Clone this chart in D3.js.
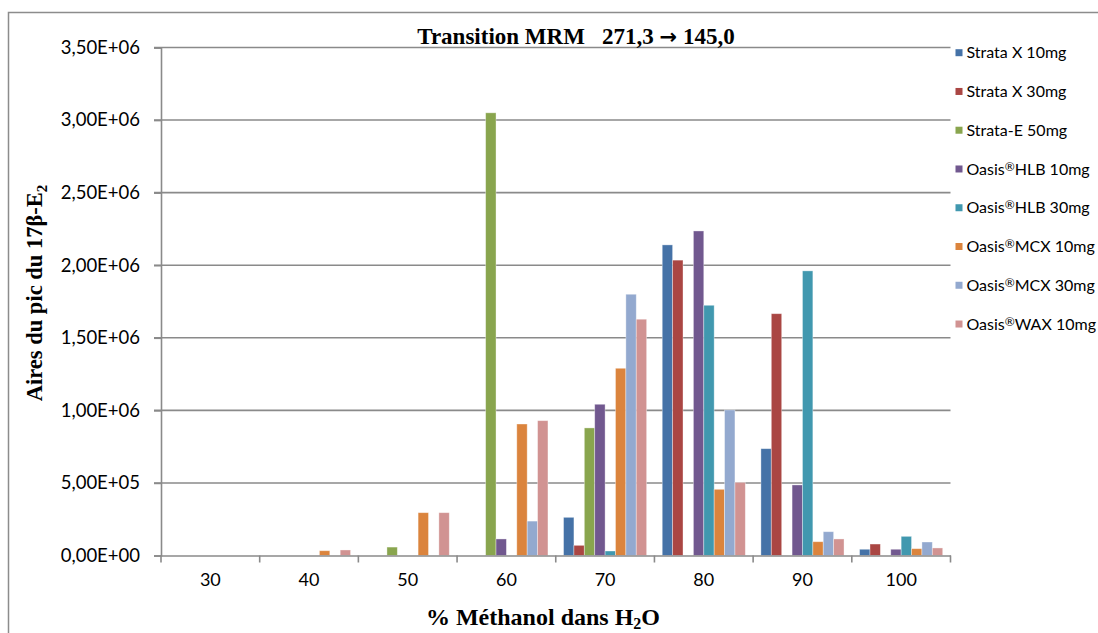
<!DOCTYPE html>
<html><head><meta charset="utf-8">
<script src="https://cdn.jsdelivr.net/npm/d3@7"></script>
<style>body{margin:0;background:#fff}svg{display:block}</style>
</head><body>
<svg id="chart" width="1098" height="633"></svg>
<script>
const categories = ["30","40","50","60","70","80","90","100"];
const seriesNames = ["Strata X 10mg","Strata X 30mg","Strata-E 50mg","Oasis®HLB 10mg","Oasis®HLB 30mg","Oasis®MCX 10mg","Oasis®MCX 30mg","Oasis®WAX 10mg"];
const seriesColors = ["#4572A7","#AA4643","#89A54E","#71588F","#4198AF","#DB843D","#93A9CF","#D19392"];
const strataX10  = [0, 0, 0, 0, 263000, 2140000, 736000, 43000];
const strataX30  = [0, 0, 0, 0, 70000, 2035000, 1666000, 79000];
const strataE50  = [0, 0, 58000, 3050000, 879000, 0, 0, 0];
const hlb10      = [0, 0, 0, 114000, 1042000, 2236000, 486000, 43000];
const hlb30      = [0, 0, 0, 0, 31000, 1724000, 1961000, 132000];
const mcx10      = [0, 33000, 295000, 906000, 1290000, 456000, 95000, 47000];
const mcx30      = [0, 0, 0, 237000, 1800000, 1003000, 164000, 93000];
const wax10      = [0, 38000, 295000, 929000, 1628000, 504000, 114000, 52000];
const seriesValues = [strataX10, strataX30, strataE50, hlb10, hlb30, mcx10, mcx30, wax10];
const yTicks = [0, 500000, 1000000, 1500000, 2000000, 2500000, 3000000, 3500000];

const svg = d3.select("#chart");
const L = 161, R = 950.5, T = 47.5, B = 555.5;
const gridColor = "#8a8a8a";
const sans = "Lato, 'Open Sans', sans-serif";
const serif = "'Liberation Serif', 'Times New Roman', serif";

// outer frame
svg.append("rect").attr("x", 8.5).attr("y", 12.5).attr("width", 1200).attr("height", 700)
  .attr("fill", "none").attr("stroke", "#8c8c8c").attr("stroke-width", 1.5);

const x = d3.scaleBand().domain(categories).range([L, R]).paddingInner(0).paddingOuter(0);
const xs = d3.scaleBand().domain(d3.range(seriesNames.length)).range([0, x.bandwidth()]).paddingInner(0).paddingOuter(0.75);
const y = d3.scaleLinear().domain([0, 3500000]).range([B, T]);

function fmt(v){
  const e = v === 0 ? 0 : Math.floor(Math.log10(v));
  const m = v / Math.pow(10, e);
  const s = m.toFixed(2).replace(".", ",");
  const es = (e < 0 ? "-" : "+") + String(Math.abs(e)).padStart(2, "0");
  return s + "E" + es;
}

// gridlines
svg.append("g").selectAll("line").data(yTicks.filter(d => d > 0)).join("line")
  .attr("x1", L - 7).attr("x2", R).attr("y1", d => y(d)).attr("y2", d => y(d))
  .attr("stroke", gridColor).attr("stroke-width", 1.6);

// y axis
const yAxis = svg.append("g").attr("transform", `translate(${L},0)`)
  .call(d3.axisLeft(y).tickValues(yTicks).tickFormat(fmt).tickSize(7).tickPadding(14));
yAxis.select(".domain").attr("stroke", gridColor).attr("stroke-width", 1.6);
yAxis.selectAll(".tick line").attr("stroke", gridColor).attr("stroke-width", 1.6);
yAxis.selectAll("text").attr("font-family", sans).attr("font-size", 18.5).attr("fill", "#000");

// bars
const g = svg.append("g");
seriesValues.forEach((vals, si) => {
  g.append("g").selectAll("rect").data(vals.map((v, ci) => ({v, c: categories[ci]}))).join("rect")
    .attr("x", d => x(d.c) + xs(si))
    .attr("width", xs.bandwidth())
    .attr("y", d => y(d.v))
    .attr("height", d => y(0) - y(d.v))
    .attr("fill", seriesColors[si])
    .attr("stroke", d => d.v > 0 ? "rgba(255,255,255,0.45)" : "none")
    .attr("stroke-width", 0.8);
});

// x axis
const xAxis = svg.append("g").attr("transform", `translate(0,${B})`)
  .call(d3.axisBottom(x).tickSize(0).tickPadding(18));
xAxis.select(".domain").attr("stroke", gridColor).attr("stroke-width", 1.6);
xAxis.selectAll("text").attr("font-family", sans).attr("font-size", 18).attr("fill", "#000");
const bounds = categories.map(c => x(c)).concat([x(categories[categories.length-1]) + x.bandwidth()]);
xAxis.append("g").selectAll("line").data(bounds).join("line")
  .attr("x1", d => d).attr("x2", d => d).attr("y1", 0).attr("y2", 7)
  .attr("stroke", gridColor).attr("stroke-width", 1.6);

// title
const tt = svg.append("text").attr("x", 576).attr("y", 44).attr("text-anchor", "middle")
  .attr("font-family", serif).attr("font-weight", "bold").attr("font-size", 23);
tt.append("tspan").text("Transition MRM\u00a0\u00a0 271,3 ");
tt.append("tspan").attr("font-family", "'DejaVu Sans', sans-serif").attr("font-size", 21).text("\u2192");
tt.append("tspan").text(" 145,0");

// axis titles
const xt = svg.append("text").attr("x", 543).attr("y", 625).attr("text-anchor", "middle")
  .attr("font-family", serif).attr("font-weight", "bold").attr("font-size", 24);
xt.append("tspan").text("% Méthanol dans H");
xt.append("tspan").attr("font-size", 16).attr("dy", 4).text("2");
xt.append("tspan").attr("dy", -4).text("O");

const yt = svg.append("text").attr("transform", "translate(42,293) rotate(-90)").attr("text-anchor", "middle")
  .attr("font-family", serif).attr("font-weight", "bold").attr("font-size", 22.5);
yt.append("tspan").text("Aires du pic du 17β-E");
yt.append("tspan").attr("font-size", 15).attr("dy", 5).text("2");

// legend
const lg = svg.append("g").attr("transform", "translate(955.5,52.7)");
const items = lg.selectAll("g").data(seriesNames).join("g").attr("transform", (d, i) => `translate(0,${i * 38.76})`);
items.append("rect").attr("x", 0).attr("y", -3.5).attr("width", 7).attr("height", 7).attr("fill", (d, i) => seriesColors[i]);
items.each(function(d, i){
  const t = d3.select(this).append("text").attr("x", 11).attr("y", 0).attr("dy", "0.35em")
    .attr("font-family", sans).attr("font-size", 16).attr("fill", "#000");
  const parts = d.split("®");
  t.append("tspan").text(parts[0]);
  if (parts.length > 1) {
    t.append("tspan").attr("font-size", 12).attr("dy", -4).text("®");
    t.append("tspan").attr("dy", 4).text(parts[1]);
  }
});
</script>
</body></html>
